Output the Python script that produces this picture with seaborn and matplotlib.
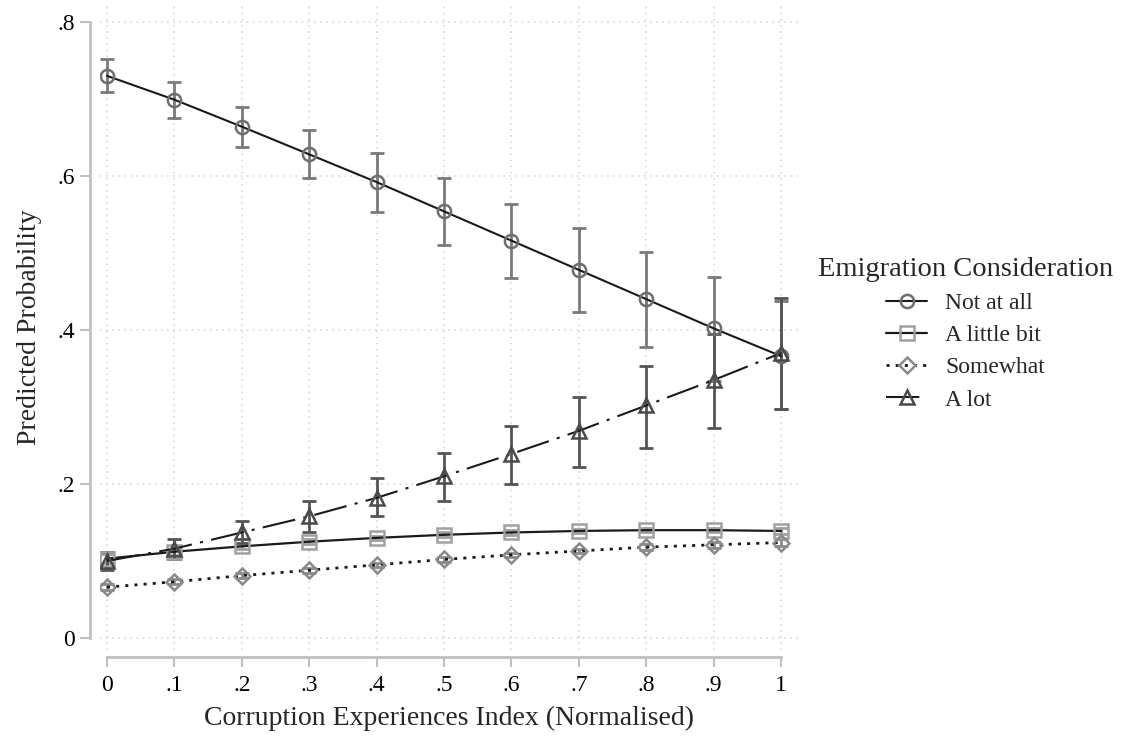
import numpy as np
import pandas as pd
import matplotlib
matplotlib.use('Agg')
import matplotlib.pyplot as plt
import seaborn as sns

# ---------------- data ----------------
x_index = [0.0, 0.1, 0.2, 0.3, 0.4, 0.5, 0.6, 0.7, 0.8, 0.9, 1.0]

not_at_all = [0.730, 0.699, 0.664, 0.628, 0.592, 0.554, 0.516, 0.478, 0.440, 0.402, 0.366]
not_at_all_lo = [0.709, 0.675, 0.637, 0.597, 0.553, 0.510, 0.468, 0.423, 0.378, 0.334, 0.297]
not_at_all_hi = [0.752, 0.722, 0.690, 0.660, 0.630, 0.597, 0.564, 0.533, 0.501, 0.469, 0.437]

little_bit = [0.103, 0.112, 0.119, 0.125, 0.130, 0.134, 0.137, 0.139, 0.140, 0.140, 0.139]
little_bit_lo = [0.097, 0.108, 0.116, 0.122, 0.127, 0.131, 0.134, 0.136, 0.137, 0.137, 0.135]
little_bit_hi = [0.109, 0.116, 0.122, 0.128, 0.133, 0.137, 0.140, 0.142, 0.143, 0.143, 0.143]

somewhat = [0.066, 0.073, 0.081, 0.088, 0.095, 0.102, 0.108, 0.113, 0.118, 0.121, 0.124]
somewhat_lo = [0.062, 0.070, 0.078, 0.085, 0.092, 0.099, 0.105, 0.110, 0.114, 0.117, 0.119]
somewhat_hi = [0.070, 0.076, 0.084, 0.091, 0.098, 0.105, 0.111, 0.116, 0.122, 0.125, 0.129]

a_lot = [0.100, 0.116, 0.137, 0.158, 0.182, 0.210, 0.239, 0.269, 0.302, 0.335, 0.370]
a_lot_lo = [0.088, 0.103, 0.123, 0.138, 0.158, 0.178, 0.200, 0.222, 0.247, 0.273, 0.298]
a_lot_hi = [0.112, 0.129, 0.152, 0.178, 0.208, 0.240, 0.275, 0.313, 0.353, 0.395, 0.442]

series_names = ['Not at all', 'A little bit', 'Somewhat', 'A lot']

# ---------------- style ----------------
sns.set_style('white')
plt.rcParams['font.family'] = ['Liberation Serif', 'DejaVu Serif']
plt.rcParams['axes.unicode_minus'] = False

AX_GREY = '#c0c0c0'
LINE_COL = '#1a1a1a'

styles = {
    'Not at all':   dict(marker='o', ms=9.5, mec='#6e6e6e', lw=1.5, dashes=None, ecol='#7a7a7a'),
    'A little bit': dict(marker='s', ms=9.5, mec='#a0a0a0', lw=1.6, dashes=None, ecol='#a0a0a0'),
    'Somewhat':     dict(marker='D', ms=8.5, mec='#8a8a8a', lw=2.0, dashes=(1.1, 2.2), ecol='#8a8a8a'),
    'A lot':        dict(marker='^', ms=9.5, mec='#4a4a4a', lw=1.5, dashes=(16, 4, 1.5, 4), ecol='#555555'),
}
values = {
    'Not at all': (not_at_all, not_at_all_lo, not_at_all_hi),
    'A little bit': (little_bit, little_bit_lo, little_bit_hi),
    'Somewhat': (somewhat, somewhat_lo, somewhat_hi),
    'A lot': (a_lot, a_lot_lo, a_lot_hi),
}

fig = plt.figure(figsize=(11.23, 7.40), dpi=100)
ax = fig.add_axes([100 / 1123, 90 / 740, 698 / 1123, 645 / 740])

# error bars first (behind the lines)
for name in series_names:
    y, lo, hi = values[name]
    y = np.array(y)
    err = [y - np.array(lo), np.array(hi) - y]
    st = styles[name]
    ax.errorbar(x_index, y, yerr=err, fmt='none', ecolor=st['ecol'],
                elinewidth=2.0, capsize=4.7, capthick=2.0, zorder=2)

handles = []
for name in series_names:
    y, lo, hi = values[name]
    st = styles[name]
    df = pd.DataFrame({'x': x_index, 'y': y})
    sns.lineplot(data=df, x='x', y='y', ax=ax, color=LINE_COL, lw=st['lw'],
                 marker=st['marker'], markersize=st['ms'],
                 markerfacecolor='none', markeredgecolor=st['mec'],
                 markeredgewidth=1.8, label=name, zorder=3)
    line = ax.get_lines()[-1]
    if st['dashes'] is not None:
        line.set_dashes(st['dashes'])
    handles.append(line)

# axes
ax.set_xlim(-0.0104, 1.025)
ax.set_ylim(-0.0156, 0.822)
ax.set_xticks(x_index)
ax.set_xticklabels(['0', '.1', '.2', '.3', '.4', '.5', '.6', '.7', '.8', '.9', '1'])
ax.set_yticks([0, 0.2, 0.4, 0.6, 0.8])
ax.set_yticklabels(['0', '.2', '.4', '.6', '.8'])

for s in ['top', 'right']:
    ax.spines[s].set_visible(False)
for s in ['left', 'bottom']:
    ax.spines[s].set_color(AX_GREY)
    ax.spines[s].set_linewidth(2)
ax.spines['left'].set_position(('outward', 7))
ax.spines['bottom'].set_position(('outward', 5))
ax.spines['left'].set_bounds(0, 0.8)
ax.spines['bottom'].set_bounds(0, 1)

ax.tick_params(axis='both', direction='out', length=7, width=1.5, color=AX_GREY,
               labelsize=17, labelcolor='black', bottom=True, left=True)
ax.tick_params(axis='x', pad=6)
ax.tick_params(axis='y', pad=4)

ax.grid(True, which='major', color='#d4d4d4', linestyle=(0, (1, 3)), linewidth=1.1)
ax.set_axisbelow(True)

ax.set_xlabel('Corruption Experiences Index (Normalised)', fontsize=20, labelpad=7)
ax.set_ylabel('Predicted Probability', fontsize=20, labelpad=11)

leg = ax.legend(handles=handles, labels=series_names, title='Emigration Consideration',
                loc='upper left', bbox_to_anchor=(818 / 1123, 1 - 257 / 740),
                bbox_transform=fig.transFigure, frameon=False, fontsize=17,
                title_fontsize=20.5, handlelength=1.75, labelspacing=0.45,
                handletextpad=0.75, borderaxespad=0, borderpad=0)

fig.savefig('out.png', dpi=100)
